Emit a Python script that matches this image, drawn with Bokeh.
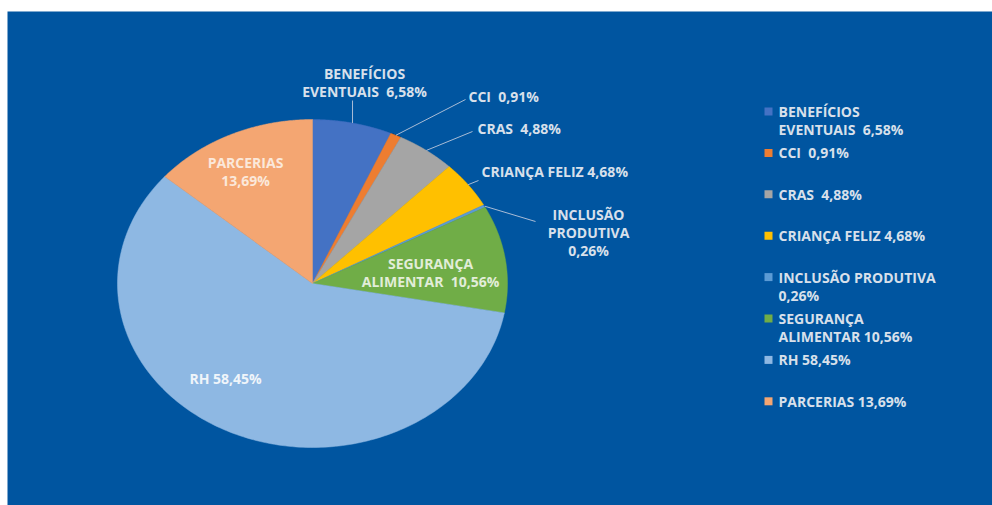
import numpy as np
from bokeh.plotting import figure
from bokeh.models import Range1d
from bokeh.core.properties import value
from bokeh.embed import file_html
from bokeh.resources import INLINE

# ---- data ----
categories = ["BENEFÍCIOS EVENTUAIS", "CCI", "CRAS", "CRIANÇA FELIZ",
              "INCLUSÃO PRODUTIVA", "SEGURANÇA ALIMENTAR", "RH", "PARCERIAS"]
values = [6.58, 0.91, 4.88, 4.68, 0.26, 10.56, 58.45, 13.69]
colors = ["#4472C4", "#ED7D31", "#A5A5A5", "#FFC000",
          "#5B9BD5", "#70AD47", "#8EB8E3", "#F4A672"]
slice_labels = ["BENEFÍCIOS\nEVENTUAIS\u00a0\u00a06,58%", "CCI\u00a0\u00a00,91%", "CRAS\u00a0\u00a04,88%",
                "CRIANÇA FELIZ 4,68%", "INCLUSÃO\nPRODUTIVA\n0,26%",
                "SEGURANÇA\nALIMENTAR\u00a0\u00a010,56%", "RH 58,45%", "PARCERIAS\n13,69%"]
legend_labels = ["BENEFÍCIOS\nEVENTUAIS\u00a0\u00a06,58%", "CCI\u00a0\u00a00,91%", "CRAS\u00a0\u00a04,88%",
                 "CRIANÇA FELIZ 4,68%", "INCLUSÃO PRODUTIVA\n0,26%",
                 "SEGURANÇA\nALIMENTAR 10,56%", "RH 58,45%", "PARCERIAS 13,69%"]

# ---- layout constants (page pixel coordinates) ----
CX, CY, RX, RY = 312, 283, 195, 164
LINE_H = 18
FONT = value("Open Sans")
FONT_SIZE = "14px"
# label anchors: (x, y of first line, align, color, leader end or None)
label_layout = [
    (364, 73, "center", "#D8E0EB", "vertical"),
    (468, 96, "left", "#D8E0EB", (465, 99)),
    (477, 128, "left", "#D8E0EB", (472, 131)),
    (481, 171, "left", "#D8E0EB", (478, 180)),
    (588, 214, "center", "#D8E0EB", (535, 221)),
    (430, 263, "center", "#E2EDD9", None),
    (225, 378, "center", "#F0F5FA", None),
    (245, 162, "center", "#FBE8DA", None),
]
LEG_X, LEG_Y0, LEG_STEP = 768, 111, 41.4

p = figure(width=992, height=505,
           x_range=Range1d(7, 992), y_range=Range1d(505, 11),
           output_backend="svg", toolbar_location=None,
           x_axis_location=None, y_axis_location=None,
           min_border_left=7, min_border_right=0,
           min_border_bottom=0, min_border_top=11)
p.grid.visible = False
p.outline_line_color = None
p.background_fill_color = "#0055A0"
p.border_fill_color = "white"

# ---- pie slices (elliptical, clockwise from 12 o'clock) ----
frac = np.array(values) / np.sum(values)
cum = np.concatenate([[0.0], np.cumsum(frac)])
xs, ys = [], []
for i in range(len(values)):
    th = np.linspace(cum[i], cum[i + 1], 200) * 2 * np.pi
    xs.append(np.concatenate([[CX], CX + RX * np.sin(th)]))
    ys.append(np.concatenate([[CY], CY - RY * np.cos(th)]))
p.patches(xs, ys, fill_color=colors, line_color=colors, line_width=0.5)

# ---- leader lines ----
lx0, ly0, lx1, ly1 = [], [], [], []
for i, lay in enumerate(label_layout):
    end = lay[4]
    if end is None:
        continue
    mid = (cum[i] + cum[i + 1]) / 2 * 2 * np.pi
    sx, sy = CX + RX * np.sin(mid), CY - RY * np.cos(mid)
    if end == "vertical":
        end = (sx, 100)
    lx0.append(sx); ly0.append(sy); lx1.append(end[0]); ly1.append(end[1])
p.segment(lx0, ly0, lx1, ly1, line_color="#A9BCD6", line_width=1)

# ---- slice labels ----
tx, ty, tt, ta, tc = [], [], [], [], []
for lab, lay in zip(slice_labels, label_layout):
    for k, line in enumerate(lab.split("\n")):
        tx.append(lay[0]); ty.append(lay[1] + k * LINE_H)
        tt.append(line); ta.append(lay[2]); tc.append(lay[3])
p.text(tx, ty, text=tt, text_align=ta, text_color=tc, text_baseline="middle",
       text_font=FONT, text_font_style="bold", text_font_size=FONT_SIZE)

# ---- legend ----
sq_y = [LEG_Y0 + i * LEG_STEP for i in range(len(categories))]
p.scatter([LEG_X] * len(sq_y), sq_y, marker="square", size=8,
          fill_color=colors, line_color=None)
gx, gy, gt = [], [], []
for i, lab in enumerate(legend_labels):
    for k, line in enumerate(lab.split("\n")):
        gx.append(LEG_X + 10); gy.append(sq_y[i] + k * LINE_H); gt.append(line)
p.text(gx, gy, text=gt, text_align="left", text_baseline="middle",
       text_color="#D8E0EB", text_font=FONT, text_font_style="bold",
       text_font_size=FONT_SIZE)

open("out.html", "w").write(file_html(p, INLINE))
